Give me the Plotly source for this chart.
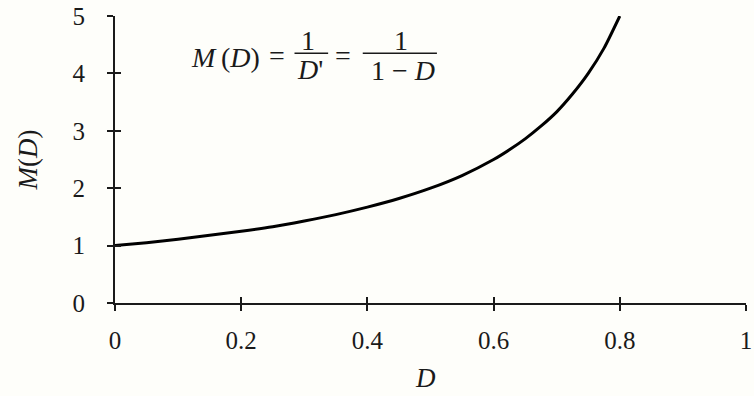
import plotly.graph_objects as go

# Duty ratio D and the corresponding conversion ratio M(D)
duty = [0.0, 0.05, 0.1, 0.15, 0.2, 0.25, 0.3, 0.35, 0.4, 0.45, 0.5, 0.55,
        0.6, 0.625, 0.65, 0.675, 0.7, 0.725, 0.75, 0.775, 0.8]
ratio = [1.0, 1.05, 1.11, 1.18, 1.25, 1.33, 1.43, 1.54, 1.67, 1.82, 2.0, 2.22,
         2.5, 2.67, 2.86, 3.08, 3.33, 3.64, 4.0, 4.44, 5.0]

x_ticks = [0, 0.2, 0.4, 0.6, 0.8, 1]
x_tick_text = ["0", "0.2", "0.4", "0.6", "0.8", "1"]
y_ticks = [0, 1, 2, 3, 4, 5]
y_tick_text = ["0", "1", "2", "3", "4", "5"]

FONT = "Liberation Serif"
INK = "#1a1a1a"
BG = "#fefefa"

W, H = 754, 396
L, R, T, B = 114.5, 1.5, 15.7, 92.7

fig = go.Figure()
fig.add_trace(go.Scatter(
    x=duty, y=ratio, mode="lines",
    line=dict(color="black", width=3, shape="spline", smoothing=0.6),
    showlegend=False, hoverinfo="skip",
))
# invisible trace on the overlay axes so inside ticks get drawn
fig.add_trace(go.Scatter(x=[0], y=[0], xaxis="x2", yaxis="y2",
                         mode="markers", marker=dict(opacity=0),
                         showlegend=False, hoverinfo="skip"))

axis_common = dict(showgrid=False, zeroline=False, showline=True,
                   linecolor=INK, linewidth=2, ticks="outside",
                   ticklen=6, tickwidth=2, tickcolor=INK,
                   ticklabeloverflow="allow",
                   tickfont=dict(family=FONT, size=25, color=INK))

fig.update_layout(
    width=W, height=H,
    margin=dict(l=L, r=R, t=T, b=B, pad=0),
    paper_bgcolor=BG, plot_bgcolor=BG,
    font=dict(family=FONT),
    xaxis=dict(range=[0, 1], tickvals=x_ticks, ticktext=x_tick_text,
               ticklabelstandoff=8, **axis_common),
    yaxis=dict(range=[0, 5], tickvals=y_ticks, ticktext=y_tick_text,
               ticklabelstandoff=17, **axis_common),
    xaxis2=dict(range=[0, 1], overlaying="x", matches="x", tickvals=x_ticks,
                ticks="inside", ticklen=6, tickwidth=2, tickcolor=INK,
                showticklabels=False, showgrid=False, zeroline=False,
                showline=False),
    yaxis2=dict(range=[0, 5], overlaying="y", matches="y", tickvals=y_ticks,
                ticks="inside", ticklen=6, tickwidth=2, tickcolor=INK,
                showticklabels=False, showgrid=False, zeroline=False,
                showline=False),
)

def px_x(px):
    return (px - L) / (W - L - R)

def px_y(py):
    return 1 - (py - T) / (H - T - B)

def text(s, x, y, size=28, xanchor="center", yanchor="middle", angle=0):
    fig.add_annotation(text=s, x=px_x(x), y=px_y(y), xref="paper", yref="paper",
                       showarrow=False, xanchor=xanchor, yanchor=yanchor,
                       textangle=angle,
                       font=dict(family=FONT, size=size, color=INK))

# Axis titles
text("<i>D</i>", 428, 378, size=27)
text("<i>M</i>(<i>D</i>)", 27, 160, size=27, angle=-90)

# Equation M(D) = 1/D' = 1/(1 - D)
text("<i>M</i>\u2009(<i>D</i>)", 226, 57)
text("=", 278, 55)
text("1", 310, 40)
text("<i>D</i>'", 312, 69)
text("=", 345, 55)
text("1", 404, 40)
text("1 \u2212 <i>D</i>", 406, 70)

for x0, x1 in [(296, 330), (365, 440)]:
    fig.add_shape(type="line", xref="paper", yref="paper",
                  x0=px_x(x0), x1=px_x(x1), y0=px_y(53), y1=px_y(53),
                  line=dict(color=INK, width=1.5))

fig.write_html("out.html")
